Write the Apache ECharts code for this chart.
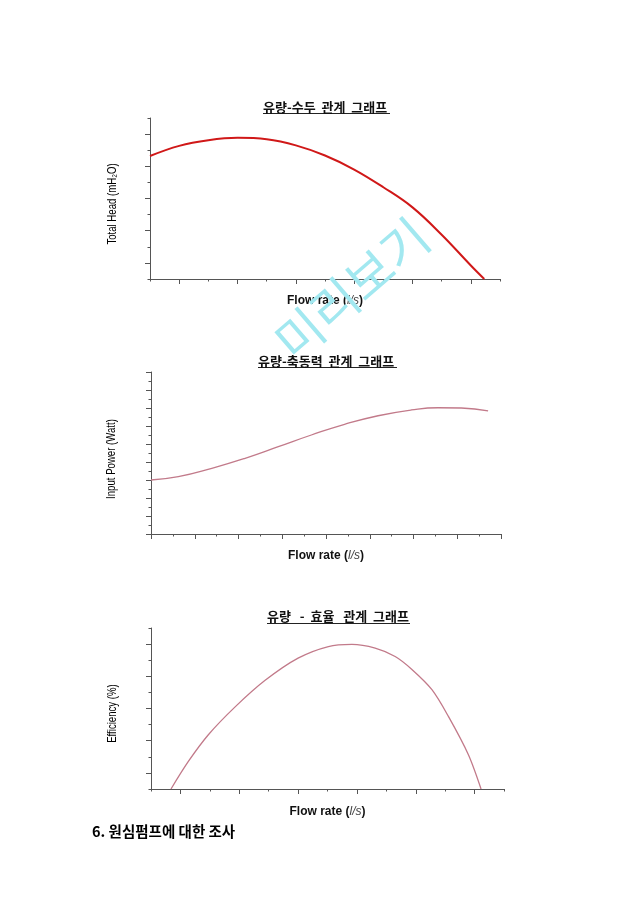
<!DOCTYPE html>
<html>
<head>
<meta charset="utf-8">
<script src="https://cdn.jsdelivr.net/npm/echarts@6/dist/echarts.min.js"></script>
<style>
html,body{margin:0;padding:0;background:#fff;}
#chart{width:640px;height:905px;}
</style>
</head>
<body>
<div id="chart"></div>
<script>
// ---- data ----
const headFlow  = [0, 1, 2, 3, 4, 5, 6, 7, 8, 9, 10, 11, 11.46];
const headValue = [7.64, 8.27, 8.62, 8.77, 8.68, 8.30, 7.67, 6.80, 5.70, 4.45, 2.75, 0.84, 0];

const powerFlow  = [0, 1.25, 2.78, 4.30, 5.82, 7.33, 8.85, 10.38, 11.90, 13.12, 14.19, 15.41];
const powerValue = [6.0, 6.37, 7.30, 8.41, 9.70, 11.0, 12.19, 13.14, 13.78, 14.03, 14.0, 13.67];

const effFlow  = [0.68, 1.27, 1.95, 2.86, 3.88, 5.00, 6.03, 6.83, 7.62, 8.30, 8.86, 9.55, 10.11, 10.79, 11.22];
const effValue = [0, 1.71, 3.37, 5.10, 6.75, 8.13, 8.85, 8.98, 8.75, 8.23, 7.44, 6.17, 4.51, 2.13, 0];

const majorTicks12 = [1, 3, 5, 7, 9, 11];
const majorTicks10 = [1, 3, 5, 7, 9];

const titles = ['유량-수두  관계  그래프', '유량-축동력  관계  그래프', '유량   -  효율   관계  그래프'];
const yNames = ['Total Head (mH\u2082O)', 'Input Power (Watt)', 'Efficiency (%)'];
const xName = 'Flow rate (';
const xUnit = 'l/s';
const sectionText = '6. 원심펌프에 대한 조사';
const watermark = '미리보기';

// ---- styling helpers ----
const AX = '#555';
const KR = "'Noto Sans CJK KR', sans-serif";
const SANS = "'Liberation Sans', Arial, sans-serif";

function zip(a, b) { return a.map((v, i) => [v, b[i]]); }

const xNameRich = {
  b: { fontFamily: SANS, fontWeight: 'bold', fontSize: 12, color: '#111' },
  i: { fontFamily: SANS, fontStyle: 'italic', fontSize: 12, color: '#444' }
};
const xNameText = '{b|' + xName + '}{i|' + xUnit + '}{b|)}';

function baseX(grid, max, extra) {
  return Object.assign({
    gridIndex: grid, type: 'value', min: 0, max: max, interval: 1, position: 'bottom',
    axisLine: { show: true, onZero: false, lineStyle: { color: AX, width: 1 } },
    axisTick: { show: true, length: 2.5, lineStyle: { color: AX } },
    axisLabel: { show: false }, splitLine: { show: false },
    name: xNameText, nameLocation: 'middle', nameGap: 16,
    nameTextStyle: { rich: xNameRich }
  }, extra || {});
}
function overlayX(grid, max, ticks) {
  return {
    gridIndex: grid, type: 'value', min: 0, max: max, position: 'bottom',
    axisLine: { show: false },
    axisTick: { show: true, length: 5, customValues: ticks, lineStyle: { color: AX } },
    axisLabel: { show: false }, splitLine: { show: false }
  };
}
function baseY(grid, max, extra) {
  return Object.assign({
    gridIndex: grid, type: 'value', min: 0, max: max, interval: 1, position: 'left',
    axisLine: { show: true, onZero: false, lineStyle: { color: AX, width: 1 } },
    axisTick: { show: true, length: 2.5, lineStyle: { color: AX } },
    axisLabel: { show: false }, splitLine: { show: false }
  }, extra || {});
}
function overlayY(grid, max, ticks) {
  return {
    gridIndex: grid, type: 'value', min: 0, max: max, position: 'left',
    axisLine: { show: false },
    axisTick: { show: true, length: 5, customValues: ticks, lineStyle: { color: AX } },
    axisLabel: { show: false }, splitLine: { show: false }
  };
}
function yNameText(text, cx, cy) {
  return { type: 'text', x: cx, y: cy, rotation: Math.PI / 2, scaleX: 0.74,
    style: { text: text, font: '13px ' + SANS, fill: '#000', align: 'center', verticalAlign: 'middle' } };
}

const titleStyle = { fontFamily: KR, fontWeight: 'bold', fontSize: 13, color: '#111' };

const option = {
  animation: false,
  backgroundColor: '#fff',
  title: [
    { text: titles[0], left: 263, top: 101, padding: 0, textStyle: titleStyle },
    { text: titles[1], left: 258, top: 355, padding: 0, textStyle: titleStyle },
    { text: titles[2], left: 267, top: 610, padding: 0, textStyle: titleStyle }
  ],
  grid: [
    { left: 150, top: 118, width: 350, height: 161 },
    { left: 151, top: 372, width: 350, height: 162 },
    { left: 151, top: 628, width: 353, height: 161 }
  ],
  xAxis: [
    baseX(0, 12),
    overlayX(0, 12, majorTicks12),
    baseX(1, 16, { interval: 2, axisTick: { show: true, length: 5, lineStyle: { color: AX } },
      minorTick: { show: true, splitNumber: 2, length: 2.5, lineStyle: { color: AX } } }),
    baseX(2, 12, { nameGap: 17 }),
    overlayX(2, 12, majorTicks12)
  ],
  yAxis: [
    baseY(0, 10),
    overlayY(0, 10, majorTicks10),
    baseY(1, 18, { interval: 2, axisTick: { show: true, length: 5, lineStyle: { color: AX } },
      minorTick: { show: true, splitNumber: 2, length: 2.5, lineStyle: { color: AX } } }),
    baseY(2, 10),
    overlayY(2, 10, majorTicks10)
  ],
  series: [
    { type: 'line', xAxisIndex: 0, yAxisIndex: 0, data: zip(headFlow, headValue), smooth: 0.4,
      symbol: 'none', lineStyle: { color: '#d01818', width: 2 } },
    { type: 'line', xAxisIndex: 2, yAxisIndex: 2, data: zip(powerFlow, powerValue), smooth: 0.5,
      symbol: 'none', lineStyle: { color: '#c27a8a', width: 1.3 } },
    { type: 'line', xAxisIndex: 3, yAxisIndex: 3, data: zip(effFlow, effValue), smooth: 0.3,
      symbol: 'none', lineStyle: { color: '#c27a8a', width: 1.3 } }
  ],
  graphic: [
    { type: 'line', shape: { x1: 263, y1: 113.5, x2: 390, y2: 113.5 }, style: { stroke: '#222', lineWidth: 1 } },
    { type: 'line', shape: { x1: 258, y1: 367.5, x2: 397, y2: 367.5 }, style: { stroke: '#222', lineWidth: 1 } },
    { type: 'line', shape: { x1: 267, y1: 623.5, x2: 410, y2: 623.5 }, style: { stroke: '#222', lineWidth: 1 } },
    yNameText(yNames[0], 112, 204),
    yNameText(yNames[1], 111, 459),
    yNameText(yNames[2], 112, 713.5),
    { type: 'text', left: 92, top: 824,
      style: { text: sectionText, font: 'bold 14.5px ' + KR, fill: '#000' } },
    { type: 'text', z: 100, x: 352, y: 289, rotation: 0.712,
      style: { text: watermark, font: '50px ' + KR, fill: '#a2e8f0', align: 'center', verticalAlign: 'middle' } }
  ]
};

const chart = echarts.init(document.getElementById('chart'), null, { renderer: 'canvas' });
chart.setOption(option);
</script>
</body>
</html>
